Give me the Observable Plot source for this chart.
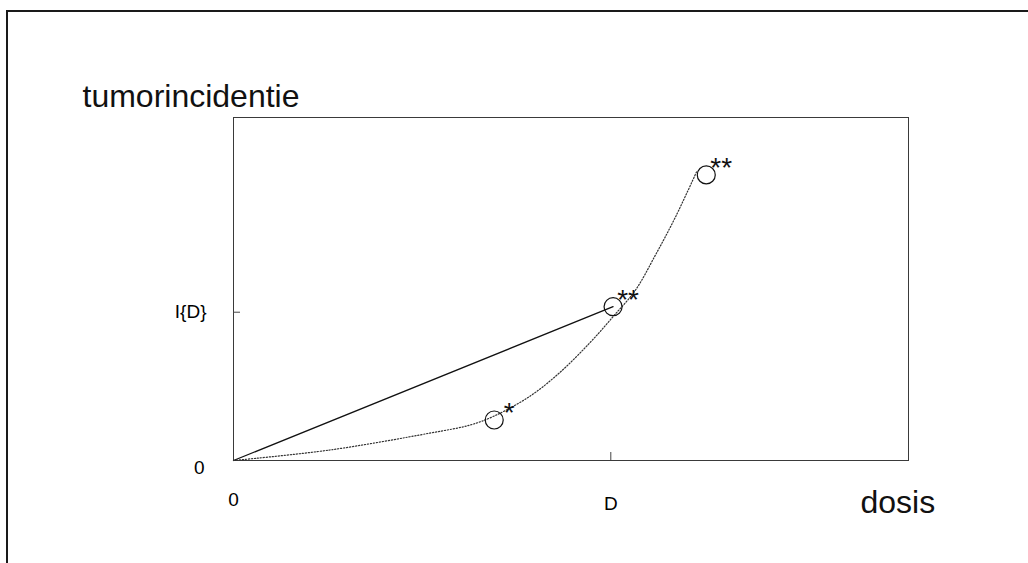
<!DOCTYPE html>
<html>
<head>
<meta charset="utf-8">
<script src="https://cdn.jsdelivr.net/npm/d3@7"></script>
<script src="https://cdn.jsdelivr.net/npm/@observablehq/plot@0.6"></script>
<style>
  html, body { margin: 0; padding: 0; background: #fff; }
  #wrap { position: relative; width: 1028px; height: 563px; overflow: hidden; }
  #outer { position: absolute; left: 6px; top: 10px; width: 1100px; height: 600px;
           border-left: 2px solid #1a1a1a; border-top: 2px solid #1a1a1a; pointer-events: none; }
  svg { display: block; }
</style>
</head>
<body>
<div id="wrap"><div id="outer"></div></div>
<script>
// ---- data (dosis in units of D, incidence in units of I{D}) ----
const yLabel = "tumorincidentie";
const xLabel = "dosis";
const xDomain = [0, 1.789];
const yDomain = [0, 2.313];
const xTicks = [0, 1];
const xTickLabels = ["0", "D"];
const yTicks = [0, 1];
const yTickLabels = ["0", "I{D}"];

// observed points (circles) and their significance marks
const obsDose = [0.691, 1.006, 1.253];
const obsInc = [0.273, 1.037, 1.926];
const obsStars = ["*", "**", "**"];

// dotted dose-response curve
const curveDose = [0, 0.256, 0.521, 0.627, 0.691, 0.786, 0.866, 0.946, 1.007, 1.065, 1.118, 1.171, 1.229];
const curveInc = [0, 0.071, 0.185, 0.239, 0.300, 0.434, 0.596, 0.798, 0.973, 1.148, 1.384, 1.640, 1.956];

// solid linear extrapolation line
const lineDose = [0, 1.006];
const lineInc = [0, 1.037];

// ---- tables ----
const obs = obsDose.map((x, i) => ({x, y: obsInc[i], s: obsStars[i]}));
const curve = curveDose.map((x, i) => ({x, y: curveInc[i]}));
const line = lineDose.map((x, i) => ({x, y: lineInc[i]}));

const W = 1028, H = 563;
const mL = 233, mR = 120, mT = 117, mB = 103;
const innerW = W - mL - mR, innerH = H - mT - mB;
const font = "Liberation Sans, Arial, Helvetica, sans-serif";

const chart = Plot.plot({
  width: W,
  height: H,
  marginLeft: mL,
  marginRight: mR,
  marginTop: mT,
  marginBottom: mB,
  style: {fontFamily: font, background: "transparent", overflow: "visible"},
  x: {domain: xDomain},
  y: {domain: yDomain},
  marks: [
    Plot.frame({stroke: "#3a3a3a", strokeWidth: 1}),
    // inward ticks
    Plot.ruleX([xTicks[1]], {x: d => d, stroke: "#444", insetTop: innerH - 8}),
    Plot.ruleY([yTicks[1]], {y: d => d, stroke: "#444", insetRight: innerW - 7}),
    // tick labels
    Plot.axisX([xTicks[0]], {tickSize: 0, tickPadding: 32, fontSize: 19, tickFormat: () => xTickLabels[0], label: null}),
    Plot.axisX([xTicks[1]], {tickSize: 0, tickPadding: 36, fontSize: 19, tickFormat: () => xTickLabels[1], label: null}),
    Plot.axisY([yTicks[0]], {tickSize: 0, tickPadding: 29, dy: 7, fontSize: 19, tickFormat: () => yTickLabels[0], label: null}),
    Plot.axisY([yTicks[1]], {tickSize: 0, tickPadding: 27, fontSize: 19, tickFormat: () => yTickLabels[1], label: null}),
    // solid line
    Plot.line(line, {x: "x", y: "y", stroke: "#111", strokeWidth: 1.3}),
    // dotted curve
    Plot.line(curve, {x: "x", y: "y", curve: "catmull-rom", stroke: "#333", strokeWidth: 1.2, strokeDasharray: "1.2 1.8"}),
    // observed points
    Plot.dot(obs, {x: "x", y: "y", r: 9, stroke: "#111", strokeWidth: 1.2, fill: "none"}),
    Plot.text(obs, {x: "x", y: "y", text: "s", dx: 15, dy: -7, fontSize: 28, fill: "#111"}),
    // axis titles
    Plot.text([yLabel], {frameAnchor: "top-left", lineAnchor: "middle", text: d => d, textAnchor: "start", dx: -151, dy: -21, fontSize: 32, fill: "#111"}),
    Plot.text([xLabel], {frameAnchor: "bottom-right", lineAnchor: "middle", text: d => d, textAnchor: "start", dx: -48, dy: 42, fontSize: 32, fill: "#111"})
  ]
});
document.getElementById("wrap").insertBefore(chart, document.getElementById("outer"));
</script>
</body>
</html>
